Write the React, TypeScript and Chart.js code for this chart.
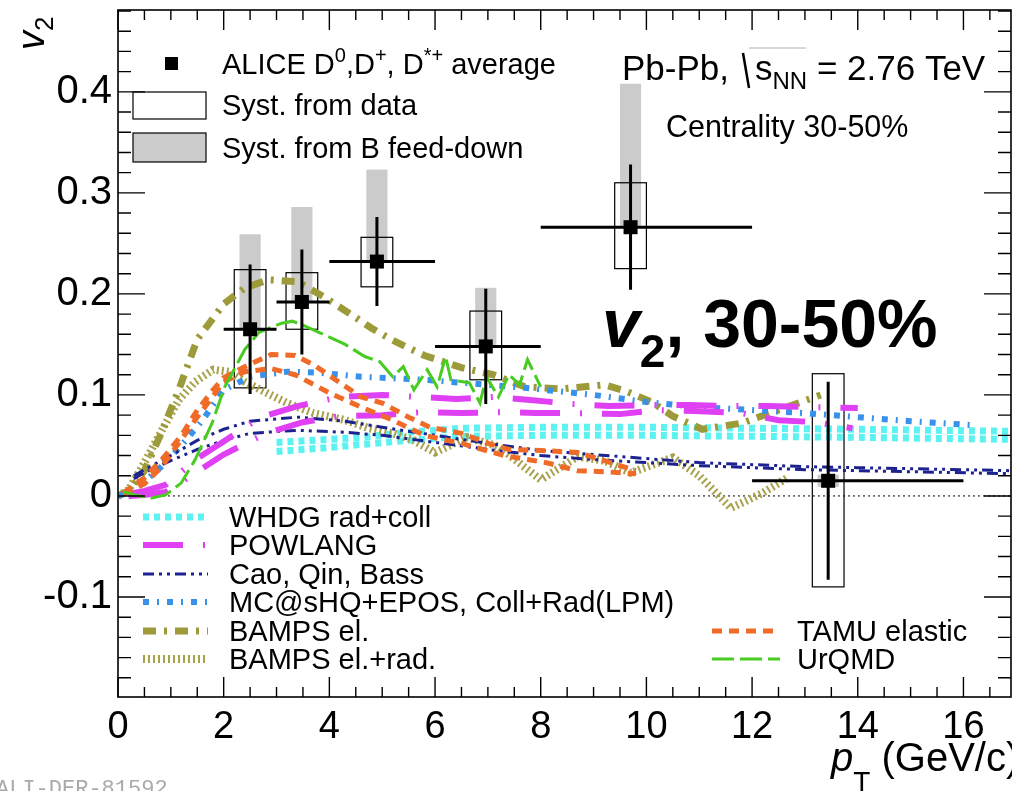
import { useEffect, useRef } from 'react';
import { Chart, registerables } from 'chart.js';
Chart.register(...registerables);

// ---------------- ALICE data ----------------
const aliceX = [2.5, 3.48, 4.9, 6.96, 9.7, 13.44];
const aliceV2 = [0.165, 0.192, 0.232, 0.148, 0.266, 0.015];
const binLow = [2, 3, 4, 6, 8, 12];
const binHigh = [3, 4, 6, 8, 12, 16];
const statErr = [0.064, 0.052, 0.044, 0.057, 0.062, 0.098];
const systLow = [0.107, 0.165, 0.207, 0.115, 0.225, -0.09];
const systHigh = [0.224, 0.221, 0.256, 0.183, 0.31, 0.121];
const feedLow = [0.165, 0.192, 0.232, 0.148, 0.266, 0.009];
const feedHigh = [0.259, 0.286, 0.323, 0.206, 0.408, 0.021];

// ---------------- model curves ----------------
const whdgX = [3, 4, 4.6, 5.5, 6.5, 8, 10, 12, 14, 16.9];
const whdgUp = [0.053, 0.056, 0.058, 0.063, 0.067, 0.068, 0.068, 0.067, 0.066, 0.064];
const whdgLow = [0.044, 0.048, 0.051, 0.055, 0.059, 0.06, 0.06, 0.059, 0.058, 0.056];

const powUpX = [0.2, 0.5, 0.9, 1.5, 2.0, 2.7, 3.4, 4.2, 5.0, 5.7, 6.4, 7.1, 7.8, 8.6, 9.3, 10.1, 10.8, 11.6, 12.3, 13.1, 14.0];
const powUp = [0.002, 0.005, 0.011, 0.037, 0.054, 0.078, 0.089, 0.098, 0.1, 0.098, 0.096, 0.098, 0.095, 0.091, 0.089, 0.09, 0.09, 0.089, 0.089, 0.088, 0.087];
const powLowX = [0.2, 0.5, 0.9, 1.5, 2.0, 2.8, 3.5, 4.2, 5.0, 5.75, 6.5, 7.3, 7.9, 8.7, 9.5, 10.2, 10.9, 11.8, 12.5, 13.2, 13.9];
const powLow = [0.0, 0.001, 0.004, 0.024, 0.041, 0.062, 0.073, 0.079, 0.08, 0.083, 0.082, 0.083, 0.082, 0.082, 0.081, 0.085, 0.084, 0.082, 0.075, 0.073, 0.067];

const caoX = [0.3, 0.5, 1.0, 1.5, 2.0, 2.5, 3.4, 4.3, 5, 6, 7, 8, 9, 10, 11, 12, 13, 14, 15, 16.9];
const caoUp = [0.02, 0.026, 0.04, 0.055, 0.066, 0.074, 0.078, 0.074, 0.068, 0.06, 0.052, 0.045, 0.041, 0.037, 0.033, 0.031, 0.029, 0.028, 0.027, 0.025];
const caoLow = [0.017, 0.023, 0.035, 0.046, 0.055, 0.062, 0.065, 0.063, 0.06, 0.053, 0.046, 0.04, 0.036, 0.033, 0.03, 0.028, 0.026, 0.025, 0.024, 0.022];

const mcX = [0.0, 0.3, 0.8, 1.2, 1.6, 2.0, 2.5, 3.2, 3.8, 4.6, 5.8, 7, 7.7, 9, 10, 11, 12, 13, 14, 15, 16.2];
const mcV2 = [0.0, 0.005, 0.028, 0.05, 0.075, 0.105, 0.118, 0.123, 0.122, 0.118, 0.115, 0.11, 0.107, 0.1, 0.093, 0.088, 0.085, 0.082, 0.078, 0.074, 0.07];

const bampsX = [0.0, 0.2, 0.5, 0.8, 1.15, 1.5, 2.0, 2.4, 2.85, 3.4, 3.9, 4.4, 4.8, 5.2, 5.8, 6.5, 7.1, 7.7, 8.4, 9.2, 9.6, 10.1, 10.5, 11.06, 11.8, 12.5, 13.3];
const bampsV2 = [0.0, 0.005, 0.025, 0.06, 0.105, 0.155, 0.19, 0.206, 0.214, 0.212, 0.197, 0.18, 0.166, 0.154, 0.139, 0.127, 0.12, 0.108, 0.106, 0.11, 0.104, 0.093, 0.079, 0.066, 0.072, 0.085, 0.1];

const bampsRadX = [0.0, 0.2, 0.5, 0.83, 1.15, 1.46, 1.8, 2.1, 2.4, 2.7, 3.2, 3.7, 4.3, 4.75, 5.2, 5.6, 6.0, 6.6, 7.2, 8.0, 8.7, 9.2, 9.7, 10.5, 11.0, 11.6, 12.2, 12.7];
const bampsRadV2 = [0.0, 0.006, 0.033, 0.065, 0.095, 0.113, 0.125, 0.123, 0.113, 0.105, 0.092, 0.082, 0.075, 0.067, 0.062, 0.055, 0.043, 0.058, 0.049, 0.016, 0.039, 0.035, 0.023, 0.038, 0.02, -0.012, 0.003, 0.019];

const tamuUpX = [0.1, 0.5, 0.83, 1.2, 1.5, 1.8, 2.0, 2.4, 2.9, 3.35, 3.7, 4.2, 4.6, 5.0, 5.5, 5.9, 6.5, 7.0, 7.4, 8.0, 8.7, 9.2, 9.8];
const tamuUp = [0.003, 0.018, 0.036, 0.06, 0.085, 0.105, 0.117, 0.128, 0.14, 0.139, 0.13, 0.112, 0.098, 0.092, 0.078, 0.068, 0.062, 0.052, 0.046, 0.045, 0.043, 0.035, 0.025];
const tamuLowX = [0.1, 0.5, 0.83, 1.5, 2.0, 2.4, 2.9, 3.35, 4.0, 4.6, 5.2, 5.8, 6.5, 7.3, 8.1, 8.7, 9.2, 9.8];
const tamuLow = [0.002, 0.012, 0.029, 0.078, 0.113, 0.123, 0.126, 0.12, 0.102, 0.088, 0.075, 0.06, 0.052, 0.04, 0.033, 0.025, 0.024, 0.022];

const urqmdX = [0.1, 0.4, 0.64, 0.9, 1.2, 1.46, 1.78, 2.02, 2.4, 2.67, 3.1, 3.3, 3.5, 3.8, 4.05, 4.3, 4.67, 4.95, 5.2, 5.4, 5.6, 5.85, 6.04, 6.2, 6.3, 6.65, 6.85, 6.97, 7.2, 7.4, 7.6, 7.75, 8.0];
const urqmdV2 = [0.004, 0.0, -0.002, 0.001, 0.013, 0.036, 0.072, 0.108, 0.145, 0.162, 0.171, 0.173, 0.169, 0.162, 0.156, 0.15, 0.138, 0.133, 0.118, 0.128, 0.105, 0.125, 0.108, 0.138, 0.115, 0.112, 0.092, 0.118, 0.098, 0.12, 0.11, 0.135, 0.108];

// ---------------- ticks ----------------
const xMin = 0, xMax = 16.9, yMin = -0.199, yMax = 0.481;
const xMajorStep = 2, xMinorStep = 0.5;
const yMajorStep = 0.1, yMinorStep = 0.02;

const FONT = '"Liberation Sans", Arial, Helvetica, sans-serif';

type Sty = { color: string; width: number; dash: number[] };
const sWHDG: Sty = { color: '#5cf2f2', width: 7, dash: [6, 5] };
const sPOW: Sty = { color: '#e040f4', width: 6, dash: [40, 20, 2, 20] };
const sCAO: Sty = { color: '#1c2390', width: 3, dash: [11, 5, 3, 5, 3, 5] };
const sMC: Sty = { color: '#3891ea', width: 6, dash: [6, 8, 2, 8] };
const sBAMPS: Sty = { color: '#9d9a3a', width: 7, dash: [13, 8, 3, 8] };
const sBAMPSR: Sty = { color: '#a8a24c', width: 8, dash: [2, 3] };
const sTAMU: Sty = { color: '#f06a28', width: 5, dash: [10, 7] };
const sURQMD: Sty = { color: '#48cc22', width: 3, dash: [22, 6] };

const pts = (xs: number[], ys: number[]) => xs.map((x, i) => ({ x, y: ys[i] }));

const line = (data: { x: number; y: number }[], s: Sty) => ({
  data,
  showLine: true,
  borderColor: s.color,
  borderWidth: s.width,
  borderDash: s.dash,
  borderCapStyle: 'butt' as const,
  pointRadius: 0,
  tension: 0,
  fill: false,
});

type Part = { t: string; size: number; dy?: number; italic?: boolean; bold?: boolean };
function rich(ctx: CanvasRenderingContext2D, parts: Part[], x: number, y: number) {
  let cx = x;
  for (const p of parts) {
    ctx.font = `${p.italic ? 'italic ' : ''}${p.bold ? 'bold ' : ''}${p.size}px ${FONT}`;
    ctx.fillText(p.t, cx, y + (p.dy || 0));
    cx += ctx.measureText(p.t).width;
  }
  return cx;
}

function sample(ctx: CanvasRenderingContext2D, x1: number, x2: number, y: number, s: Sty) {
  ctx.save();
  ctx.strokeStyle = s.color;
  ctx.lineWidth = s.width;
  ctx.setLineDash(s.dash);
  ctx.lineCap = 'butt';
  ctx.beginPath();
  ctx.moveTo(x1, y);
  ctx.lineTo(x2, y);
  ctx.stroke();
  ctx.restore();
}

const rootPlugin = {
  id: 'rootStyle',
  beforeDatasetsDraw(chart: any) {
    const { ctx, chartArea: a, scales } = chart;
    const xs = scales.x, ys = scales.y;
    ctx.save();
    // zero line
    ctx.strokeStyle = '#000';
    ctx.lineWidth = 1;
    ctx.setLineDash([2, 3]);
    ctx.beginPath();
    const y0 = ys.getPixelForValue(0);
    ctx.moveTo(a.left, y0);
    ctx.lineTo(a.right, y0);
    ctx.stroke();
    ctx.setLineDash([]);
    // feed-down syst (gray) and data syst (boxes)
    for (let i = 0; i < aliceX.length; i++) {
      const gx1 = xs.getPixelForValue(aliceX[i] - 0.2);
      const gx2 = xs.getPixelForValue(aliceX[i] + 0.2);
      const gy1 = ys.getPixelForValue(feedHigh[i]);
      const gy2 = ys.getPixelForValue(feedLow[i]);
      ctx.fillStyle = '#cbcbcb';
      ctx.fillRect(gx1, gy1, gx2 - gx1, gy2 - gy1);
    }
    for (let i = 0; i < aliceX.length; i++) {
      const bx1 = xs.getPixelForValue(aliceX[i] - 0.3);
      const bx2 = xs.getPixelForValue(aliceX[i] + 0.3);
      const by1 = ys.getPixelForValue(systHigh[i]);
      const by2 = ys.getPixelForValue(systLow[i]);
      ctx.strokeStyle = '#000';
      ctx.lineWidth = 1.2;
      ctx.strokeRect(bx1, by1, bx2 - bx1, by2 - by1);
    }
    ctx.restore();
  },
  afterDatasetsDraw(chart: any) {
    const { ctx, scales } = chart;
    const xs = scales.x, ys = scales.y;
    ctx.save();
    ctx.strokeStyle = '#000';
    ctx.fillStyle = '#000';
    ctx.lineWidth = 3;
    for (let i = 0; i < aliceX.length; i++) {
      const px = xs.getPixelForValue(aliceX[i]);
      const py = ys.getPixelForValue(aliceV2[i]);
      ctx.beginPath();
      ctx.moveTo(xs.getPixelForValue(binLow[i]), py);
      ctx.lineTo(xs.getPixelForValue(binHigh[i]), py);
      ctx.moveTo(px, ys.getPixelForValue(aliceV2[i] + statErr[i]));
      ctx.lineTo(px, ys.getPixelForValue(aliceV2[i] - statErr[i]));
      ctx.stroke();
      ctx.fillRect(px - 7, py - 7, 14, 14);
    }
    ctx.restore();
  },
  afterDraw(chart: any) {
    const { ctx, chartArea: a, scales } = chart;
    const xs = scales.x, ys = scales.y;
    ctx.save();
    // frame
    ctx.strokeStyle = '#000';
    ctx.lineWidth = 1.6;
    ctx.strokeRect(a.left, a.top, a.right - a.left, a.bottom - a.top);
    ctx.lineWidth = 1.4;
    ctx.beginPath();
    const nx = Math.round((xMax - xMin) / xMinorStep);
    for (let k = 0; k <= nx; k++) {
      const v = xMin + k * xMinorStep;
      if (v > xMax) break;
      const major = k % Math.round(xMajorStep / xMinorStep) === 0;
      const px = xs.getPixelForValue(v);
      const len = major ? 20 : 10;
      ctx.moveTo(px, a.bottom);
      ctx.lineTo(px, a.bottom - len);
      ctx.moveTo(px, a.top);
      ctx.lineTo(px, a.top + len);
    }
    const k0 = Math.ceil(yMin / yMinorStep - 1e-9);
    const k1 = Math.floor(yMax / yMinorStep + 1e-9);
    for (let k = k0; k <= k1; k++) {
      const v = k * yMinorStep;
      const major = k % Math.round(yMajorStep / yMinorStep) === 0;
      const py = ys.getPixelForValue(v);
      const len = major ? 27 : 13;
      ctx.moveTo(a.left, py);
      ctx.lineTo(a.left + len, py);
      ctx.moveTo(a.right, py);
      ctx.lineTo(a.right - len, py);
    }
    ctx.stroke();

    ctx.fillStyle = '#000';
    ctx.textBaseline = 'alphabetic';
    ctx.textAlign = 'left';

    // axis titles
    ctx.save();
    ctx.translate(44, 50);
    ctx.rotate(-Math.PI / 2);
    rich(ctx, [
      { t: 'v', size: 38, italic: true },
      { t: '2', size: 26, dy: 9 },
    ], 0, 0);
    ctx.restore();
    rich(ctx, [
      { t: 'p', size: 40, italic: true },
      { t: 'T', size: 28, dy: 20 },
      { t: ' (GeV/c)', size: 40 },
    ], 831, 771);

    // top-left legend
    ctx.fillRect(165, 57, 13, 13);
    rich(ctx, [
      { t: 'ALICE D', size: 29 },
      { t: '0', size: 20, dy: -12 },
      { t: ',D', size: 29 },
      { t: '+', size: 20, dy: -12 },
      { t: ', D', size: 29 },
      { t: '*+', size: 20, dy: -12 },
      { t: ' average', size: 29 },
    ], 222, 74);
    ctx.lineWidth = 1.2;
    ctx.strokeRect(133, 92, 73, 27);
    ctx.fillStyle = '#cbcbcb';
    ctx.fillRect(133, 133, 73, 29);
    ctx.strokeRect(133, 133, 73, 29);
    ctx.fillStyle = '#000';
    rich(ctx, [{ t: 'Syst. from data', size: 29 }], 222, 115);
    rich(ctx, [{ t: 'Syst. from B feed-down', size: 29 }], 222, 158);

    // energy label
    rich(ctx, [{ t: 'Pb-Pb,', size: 35 }], 622, 80);
    ctx.lineWidth = 2.5;
    ctx.beginPath();
    ctx.moveTo(743, 53);
    ctx.lineTo(749, 88);
    ctx.stroke();
    ctx.lineWidth = 0.8;
    ctx.strokeStyle = '#999';
    ctx.beginPath();
    ctx.moveTo(749, 48);
    ctx.lineTo(806, 48);
    ctx.stroke();
    ctx.strokeStyle = '#000';
    rich(ctx, [
      { t: 's', size: 35 },
      { t: 'NN', size: 24, dy: 9 },
      { t: ' = 2.76 TeV', size: 35 },
    ], 755, 80);
    rich(ctx, [{ t: 'Centrality 30-50%', size: 30.5 }], 666, 137);

    // big label
    rich(ctx, [
      { t: 'v', size: 68, italic: true, bold: true },
      { t: '2', size: 46, bold: true, dy: 20 },
      { t: ', 30-50%', size: 68, bold: true },
    ], 602, 347);

    // bottom legends
    const items: [string, Sty][] = [
      ['WHDG rad+coll', sWHDG],
      ['POWLANG', sPOW],
      ['Cao, Qin, Bass', sCAO],
      ['MC@sHQ+EPOS, Coll+Rad(LPM)', sMC],
      ['BAMPS el.', sBAMPS],
      ['BAMPS el.+rad.', sBAMPSR],
    ];
    const ly = [517, 545, 574, 602, 631, 659];
    items.forEach(([label, s], i) => {
      sample(ctx, 143, 208, ly[i], s);
      ctx.fillStyle = '#000';
      rich(ctx, [{ t: label, size: 29 }], 229, ly[i] + 10);
    });
    const items2: [string, Sty][] = [
      ['TAMU elastic', sTAMU],
      ['UrQMD', sURQMD],
    ];
    items2.forEach(([label, s], i) => {
      sample(ctx, 712, 780, ly[4 + i], s);
      ctx.fillStyle = '#000';
      rich(ctx, [{ t: label, size: 29 }], 797, ly[4 + i] + 10);
    });

    // watermark
    ctx.fillStyle = '#aaaaaa';
    ctx.font = `22px "Liberation Mono", "DejaVu Sans Mono", monospace`;
    ctx.fillText('ALI-DER-81592', -4, 795);
    ctx.restore();
  },
};

export default function App() {
  const ref = useRef<HTMLCanvasElement>(null);
  useEffect(() => {
    if (!ref.current) return;
    const chart = new Chart(ref.current, {
      type: 'scatter',
      data: {
        datasets: [
          line(pts(urqmdX, urqmdV2), sURQMD),
          line(pts(tamuUpX, tamuUp), sTAMU),
          line(pts(tamuLowX, tamuLow), sTAMU),
          line(pts(powUpX, powUp), sPOW),
          line(pts(powLowX, powLow), sPOW),
          line(pts(caoX, caoUp), sCAO),
          line(pts(caoX, caoLow), sCAO),
          line(pts(mcX, mcV2), sMC),
          line(pts(bampsX, bampsV2), sBAMPS),
          line(pts(bampsRadX, bampsRadV2), sBAMPSR),
          line(pts(whdgX, whdgUp), sWHDG),
          line(pts(whdgX, whdgLow), sWHDG),
        ] as any,
      },
      options: {
        responsive: false,
        animation: false,
        devicePixelRatio: 1,
        layout: { autoPadding: false, padding: { top: 10, right: 1, left: 0, bottom: 0 } },
        plugins: { legend: { display: false }, tooltip: { enabled: false } },
        scales: {
          x: {
            type: 'linear',
            min: xMin,
            max: xMax,
            grid: { display: false, drawTicks: false },
            border: { display: false },
            ticks: {
              stepSize: xMajorStep,
              includeBounds: false,
              autoSkip: false,
              maxRotation: 0,
              padding: 8,
              color: '#000',
              font: { family: FONT, size: 38 },
              callback: (v: any) => String(Math.round(Number(v))),
            },
            afterFit: (s: any) => {
              s.height = 94;
              s.paddingLeft = 0; s.paddingRight = 0; s.paddingTop = 0; s.paddingBottom = 0;
            },
          },
          y: {
            type: 'linear',
            min: yMin,
            max: yMax,
            grid: { display: false, drawTicks: false },
            border: { display: false },
            ticks: {
              stepSize: yMajorStep,
              includeBounds: false,
              autoSkip: false,
              padding: 6,
              color: '#000',
              font: { family: FONT, size: 40 },
              callback: (v: any) => {
                const n = Math.round(Number(v) * 10) / 10;
                return Math.abs(n) < 1e-9 ? '0' : String(n);
              },
            },
            afterFit: (s: any) => {
              s.width = 118;
              s.paddingLeft = 0; s.paddingRight = 0; s.paddingTop = 0; s.paddingBottom = 0;
            },
          },
        },
      } as any,
      plugins: [rootPlugin],
    });
    return () => chart.destroy();
  }, []);
  return (
    <div style={{ position: 'absolute', left: 0, top: 0, width: 1012, height: 791, background: '#fff' }}>
      <canvas ref={ref} width={1012} height={791} style={{ width: 1012, height: 791, display: 'block' }} />
    </div>
  );
}
